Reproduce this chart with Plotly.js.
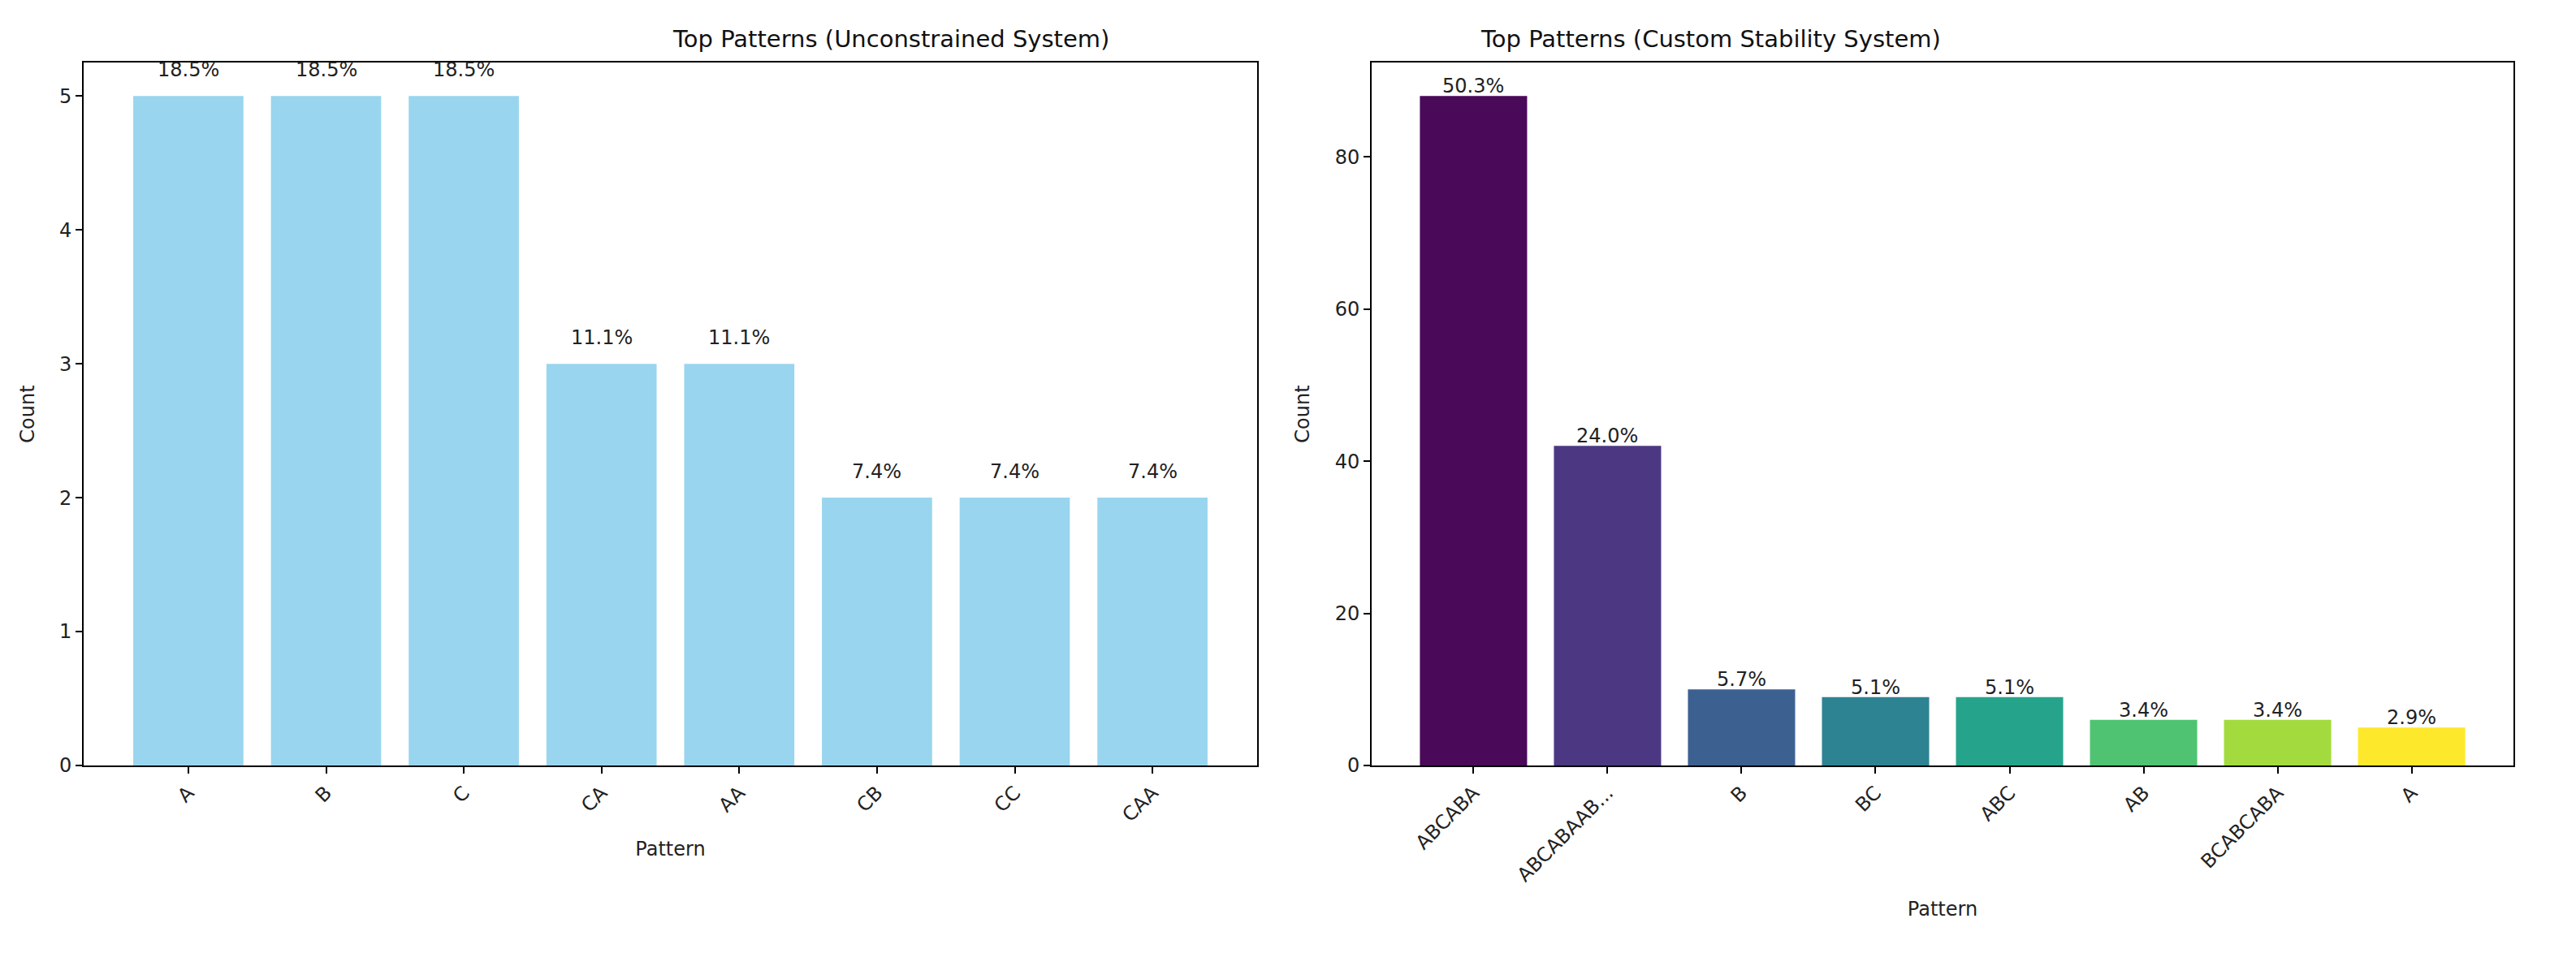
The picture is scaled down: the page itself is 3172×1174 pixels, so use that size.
<!DOCTYPE html>
<html><head><meta charset="utf-8">
<script src="https://cdn.plot.ly/plotly-3.0.1.min.js"></script>
<style>body{margin:0;background:#fff}#c{width:3172px;height:1174px}</style>
</head><body><div id="c"></div>
<script>
const leftCats = ["A","B","C","CA","AA","CB","CC","CAA"];
const leftCounts = [5,5,5,3,3,2,2,2];
const leftPct = ["18.5%","18.5%","18.5%","11.1%","11.1%","7.4%","7.4%","7.4%"];
const rightCats = ["ABCABA","ABCABAAB...","B","BC","ABC","AB","BCABCABA","A"];
const rightCounts = [88,42,10,9,9,6,6,5];
const rightPct = ["50.3%","24.0%","5.7%","5.1%","5.1%","3.4%","3.4%","2.9%"];
const viridis = ["#440154","#46327e","#365c8d","#277f8e","#1fa187","#4ac16d","#a0da39","#fde725"];

const font = {family:"DejaVu Sans", size:24, color:"#222"};
const W=3172, H=1174;
const traces = [
 {type:"bar", x:leftCats, y:leftCounts, width:0.8, marker:{color:"#87CEEB", opacity:0.85}, xaxis:"x", yaxis:"y", hoverinfo:"none"},
 {type:"bar", x:rightCats, y:rightCounts, width:0.8, marker:{color:viridis, opacity:0.97}, xaxis:"x2", yaxis:"y2", hoverinfo:"none"}
];
const ann = [];
leftCats.forEach((c,i)=>ann.push({x:c, y:leftCounts[i]+0.1, xref:"x", yref:"y", text:leftPct[i], showarrow:false, yanchor:"bottom", font:font}));
rightCats.forEach((c,i)=>ann.push({x:c, y:rightCounts[i], xref:"x2", yref:"y2", text:rightPct[i], showarrow:false, yanchor:"bottom", yshift:-4, font:font}));
const topY = 1-77/H;
ann.push({text:"Top Patterns (Unconstrained System)", xref:"paper", yref:"paper", x:(103+1548)/2/W, y:topY, yanchor:"bottom", yshift:10, showarrow:false, font:{family:"DejaVu Sans", size:29, color:"#111"}});
ann.push({text:"Top Patterns (Custom Stability System)", xref:"paper", yref:"paper", x:(1689+3095)/2/W, y:topY, yanchor:"bottom", yshift:10, showarrow:false, font:{family:"DejaVu Sans", size:29, color:"#111"}});
const axBase = {showline:true, mirror:true, linecolor:"#000", linewidth:2, ticks:"outside", ticklen:8, tickwidth:2, tickcolor:"#000", showgrid:false, zeroline:false, tickfont:font};
const layout = {
 width:W, height:H, margin:{l:0,r:0,t:0,b:0}, paper_bgcolor:"#fff", plot_bgcolor:"#fff", showlegend:false,
 annotations: ann,
 xaxis: Object.assign({}, axBase, {domain:[103/W,1548/W], anchor:"y", range:[-0.76,7.76], tickangle:-45, title:{text:"Pattern", font:font, standoff:20}}),
 yaxis: Object.assign({}, axBase, {domain:[1-943/H,topY], anchor:"x", range:[0,5.25], dtick:1, title:{text:"Count", font:font, standoff:24}}),
 xaxis2: Object.assign({}, axBase, {domain:[1689/W,3095/W], anchor:"y2", range:[-0.76,7.76], tickangle:-45, title:{text:"Pattern", font:font, standoff:20}}),
 yaxis2: Object.assign({}, axBase, {domain:[1-943/H,topY], anchor:"x2", range:[0,92.4], dtick:20, title:{text:"Count", font:font, standoff:24}})
};
Plotly.newPlot("c", traces, layout, {staticPlot:true});
</script></body></html>
